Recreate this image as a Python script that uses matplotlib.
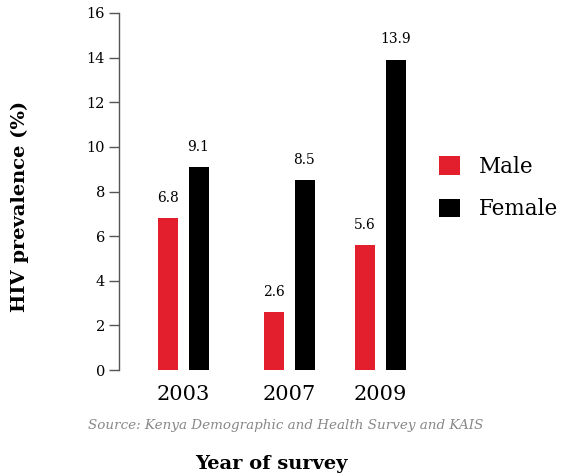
import matplotlib.pyplot as plt
import numpy as np

# Data
years = ["2003", "2007", "2009"]
male = [6.8, 2.6, 5.6]
female = [9.1, 8.5, 13.9]
y_ticks = [0, 2, 4, 6, 8, 10, 12, 14, 16]

# Layout (x axis measured in pixels from the left spine)
centers = np.array([64, 170, 261])
offset = 15.5
bar_w = 20
red = "#e31f2e"
serif = "DejaVu Serif"

W, H = 563, 475
fig = plt.figure(figsize=(W / 100, H / 100), dpi=100)
ax = fig.add_axes([119 / W, (H - 370) / H, 301 / W, 357 / H])

ax.bar(centers - offset, male, width=bar_w, color=red, label="Male")
ax.bar(centers + offset, female, width=bar_w, color="black", label="Female")

for c, m, f in zip(centers, male, female):
    ax.text(c - offset, m + 0.6, f"{m}", ha="center", va="bottom",
            fontsize=10, family=serif)
    ax.text(c + offset, f + 0.6, f"{f}", ha="center", va="bottom",
            fontsize=10, family=serif)

ax.set_xlim(0, 301)
ax.set_ylim(0, 16)
ax.set_yticks(y_ticks)
ax.set_yticklabels([str(t) for t in y_ticks], family=serif, fontsize=10.5)
ax.tick_params(axis="y", length=7, width=1, color="#555555", pad=3)
ax.set_xticks(centers)
ax.set_xticklabels(years, family=serif, fontsize=15)
ax.tick_params(axis="x", length=0, pad=11)

for s in ["top", "right", "bottom"]:
    ax.spines[s].set_visible(False)
ax.spines["left"].set_color("#555555")
ax.spines["left"].set_linewidth(1)

fig.text(20 / W, 1 - 206 / H, "HIV prevalence (%)", rotation=90,
         ha="center", va="center", fontsize=14, fontweight="bold", family=serif)
fig.text(271 / W, 1 - 464 / H, "Year of survey", ha="center", va="center",
         fontsize=14, fontweight="bold", family=serif)
fig.text(286 / W, 1 - 425 / H,
         "Source: Kenya Demographic and Health Survey and KAIS",
         ha="center", va="center", fontsize=9.7, style="italic",
         color="#888888", family=serif)

fig.legend(loc="center left", bbox_to_anchor=(420 / W, 1 - 188 / H),
           frameon=False, prop={"family": serif, "size": 15.5},
           handlelength=0.95, handleheight=0.95, handletextpad=0.9,
           labelspacing=0.95)

plt.savefig("out.png", dpi=100)
plt.close(fig)
